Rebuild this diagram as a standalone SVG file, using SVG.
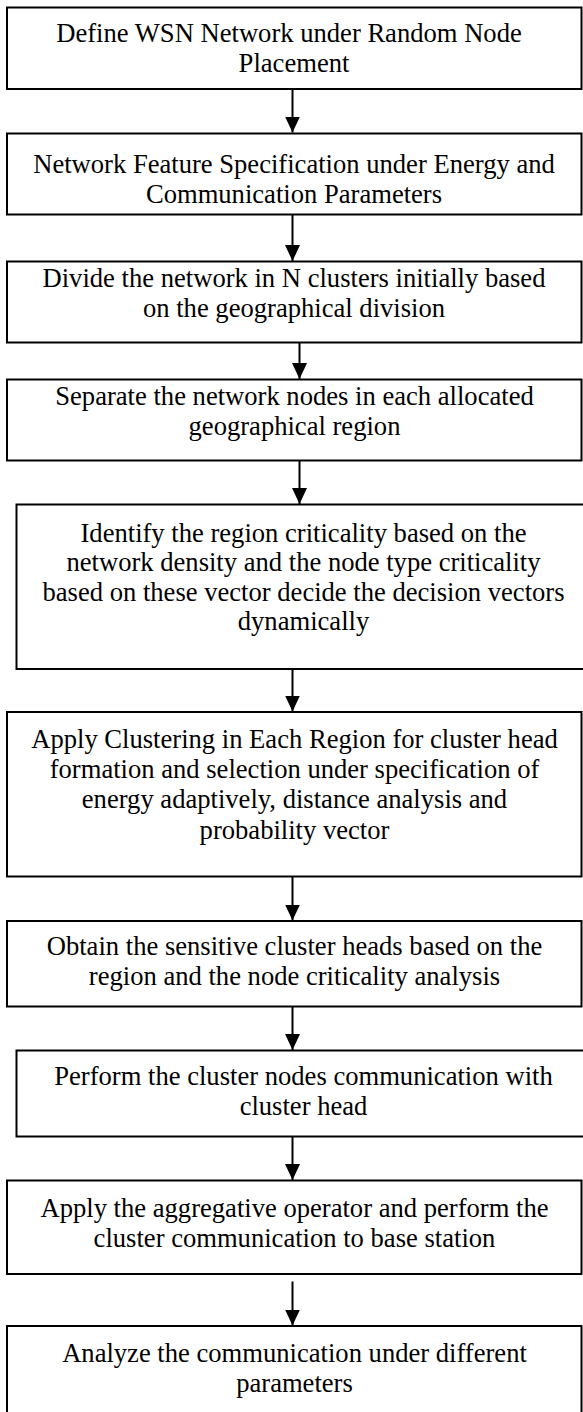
<svg xmlns="http://www.w3.org/2000/svg" width="583" height="1412" viewBox="0 0 583 1412">
  <style>
    .box { fill: #ffffff; stroke: #000000; stroke-width: 2; }
    .lbl { font-family: "Liberation Serif", "Times New Roman", serif; font-size: 26.6px; fill: #000000; text-anchor: middle; }
    .conn { stroke: #000000; stroke-width: 2; fill: none; marker-end: url(#arrow); }
  </style>
  <defs>
    <marker id="arrow" markerUnits="userSpaceOnUse" viewBox="0 0 16 15" refX="16" refY="7.5" markerWidth="16" markerHeight="15" orient="auto">
      <path d="M0,0 L16,7.5 L0,15 Z" fill="#000000"/>
    </marker>
  </defs>
  <rect x="0" y="0" width="583" height="1412" fill="#ffffff"/>

  <g id="node1">
    <rect class="box" x="7" y="7.5" width="574.5" height="81.5"/>
    <text class="lbl"><tspan x="289" y="41.5">Define WSN Network under Random Node</tspan><tspan x="294" y="71.5">Placement</tspan></text>
  </g>
  <g id="node2">
    <rect class="box" x="7" y="133.5" width="574.5" height="81"/>
    <text class="lbl"><tspan x="294" y="173">Network Feature Specification under Energy and</tspan><tspan x="294" y="203">Communication Parameters</tspan></text>
  </g>
  <g id="node3">
    <rect class="box" x="7" y="261.5" width="574.5" height="81"/>
    <text class="lbl"><tspan x="294" y="286.5">Divide the network in N clusters initially based</tspan><tspan x="294" y="316.5">on the geographical division</tspan></text>
  </g>
  <g id="node4">
    <rect class="box" x="7" y="379.5" width="574.5" height="81"/>
    <text class="lbl"><tspan x="294.5" y="405">Separate the network nodes in each allocated</tspan><tspan x="294.5" y="435">geographical region</tspan></text>
  </g>
  <g id="node5">
    <rect class="box" x="16.5" y="504.5" width="574" height="164.5"/>
    <text class="lbl"><tspan x="303.5" y="541.5">Identify the region criticality based on the</tspan><tspan x="303.5" y="571">network density and the node type criticality</tspan><tspan x="303.5" y="600.5">based on these vector decide the decision vectors</tspan><tspan x="303.5" y="630">dynamically</tspan></text>
  </g>
  <g id="node6">
    <rect class="box" x="7" y="712" width="574.5" height="164.5"/>
    <text class="lbl"><tspan x="294.5" y="748">Apply Clustering in Each Region for cluster head</tspan><tspan x="294.5" y="778">formation and selection under specification of</tspan><tspan x="294.5" y="808">energy adaptively, distance analysis and</tspan><tspan x="294.5" y="838.5">probability vector</tspan></text>
  </g>
  <g id="node7">
    <rect class="box" x="7" y="921" width="574.5" height="85.5"/>
    <text class="lbl"><tspan x="294.5" y="955">Obtain the sensitive cluster heads based on the</tspan><tspan x="294.5" y="985">region and the node criticality analysis</tspan></text>
  </g>
  <g id="node8">
    <rect class="box" x="16.5" y="1050.5" width="574" height="86"/>
    <text class="lbl"><tspan x="303.5" y="1085">Perform the cluster nodes communication with</tspan><tspan x="303.5" y="1115">cluster head</tspan></text>
  </g>
  <g id="node9">
    <rect class="box" x="7" y="1180.5" width="574.5" height="93.5"/>
    <text class="lbl"><tspan x="294.5" y="1216.5">Apply the aggregative operator and perform the</tspan><tspan x="294.5" y="1246.5">cluster communication to base station</tspan></text>
  </g>
  <g id="node10">
    <rect class="box" x="7" y="1326" width="574.5" height="110"/>
    <text class="lbl"><tspan x="294.5" y="1361.5">Analyze the communication under different</tspan><tspan x="294.5" y="1391.5">parameters</tspan></text>
  </g>

  <g id="connectors">
    <line class="conn" x1="292.5" y1="89" x2="292.5" y2="132.5"/>
    <line class="conn" x1="292.5" y1="214.5" x2="292.5" y2="261"/>
    <line class="conn" x1="299.5" y1="342.5" x2="299.5" y2="379"/>
    <line class="conn" x1="299.5" y1="460.5" x2="299.5" y2="504"/>
    <line class="conn" x1="292.5" y1="669" x2="292.5" y2="711.5"/>
    <line class="conn" x1="292.5" y1="876.5" x2="292.5" y2="920.5"/>
    <line class="conn" x1="292.5" y1="1006.5" x2="292.5" y2="1050"/>
    <line class="conn" x1="292.5" y1="1136.5" x2="292.5" y2="1180"/>
    <line class="conn" x1="292.5" y1="1281.5" x2="292.5" y2="1325.5"/>
  </g>
</svg>
